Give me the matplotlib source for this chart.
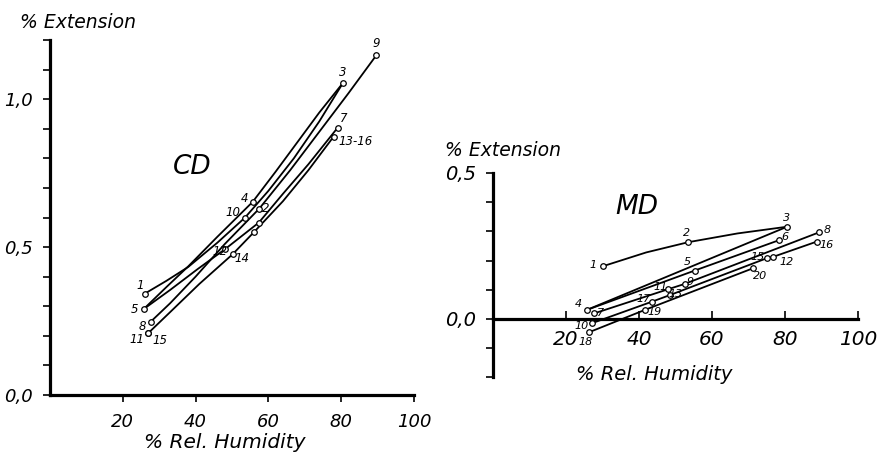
import matplotlib.pyplot as plt
from matplotlib.ticker import MultipleLocator, FixedLocator

plt.rcParams['font.family'] = 'DejaVu Sans'
plt.rcParams['font.style'] = 'italic'

# ---- CD: extension vs. relative humidity (read-off curve traces) ----
cd_a_x = [26.1, 32, 38, 46, 53.6, 60, 67, 74, 80.5]          # 1 -> 10 -> 3
cd_a_y = [0.343, 0.386, 0.433, 0.515, 0.600, 0.690, 0.800, 0.925, 1.055]
cd_b_x = [25.7, 32, 38, 46, 55.7, 62, 68, 74, 80.5]          # 5 -> 4 -> 3
cd_b_y = [0.290, 0.365, 0.435, 0.535, 0.653, 0.755, 0.855, 0.955, 1.055]
cd_c_x = [27.7, 33, 40, 48, 57.5, 66, 74, 82, 89.7]          # 8 -> 2 -> 9
cd_c_y = [0.248, 0.310, 0.400, 0.510, 0.630, 0.760, 0.890, 1.020, 1.149]
cd_d_x = [25.7, 33, 40.5, 48.1, 57.4, 64, 71, 79.0]          # 5 -> 12 -> 7
cd_d_y = [0.290, 0.355, 0.425, 0.493, 0.583, 0.680, 0.780, 0.903]
cd_e_x = [26.9, 33, 41, 50.2, 56, 64, 71, 77.9]              # 11/15 -> 14 -> 13-16
cd_e_y = [0.208, 0.280, 0.375, 0.476, 0.550, 0.655, 0.760, 0.873]

cd_pt_lbl = ['1', '5', '8', '11', '15', '4', '10', '2', '12', '14', '', '', '3', '9', '7', '13-16']
cd_pt_x = [26.1, 25.7, 27.7, 26.9, 26.9, 55.7, 53.6, 57.5, 48.1, 50.2, 56.0, 57.4, 80.5, 89.7, 79.0, 77.9]
cd_pt_y = [0.343, 0.290, 0.248, 0.208, 0.208, 0.653, 0.600, 0.630, 0.493, 0.476, 0.550, 0.583,
           1.055, 1.149, 0.903, 0.873]

# ---- MD ----
md_a_x = [30.2, 42, 53.5, 67, 80.6]                          # 1 -> 2 -> 3
md_a_y = [0.181, 0.228, 0.263, 0.293, 0.316]
md_b_x = [25.7, 80.6]                                        # 4 -> 3
md_b_y = [0.031, 0.316]
md_c_x = [25.7, 55.3, 78.4]                                  # 4 -> 5 -> 6
md_c_y = [0.031, 0.166, 0.270]
md_d_x = [27.7, 48.0, 52.5, 89.4]                            # 7 -> 11 -> 9 -> 8
md_d_y = [0.019, 0.102, 0.120, 0.297]
md_e_x = [27.0, 43.5, 48.5, 75.0, 76.8, 88.7]                # 10 -> 17 -> 13 -> 15 -> 12 -> 16
md_e_y = [-0.015, 0.059, 0.082, 0.208, 0.213, 0.265]
md_f_x = [26.4, 41.6, 71.3]                                  # 18 -> 19 -> 20
md_f_y = [-0.045, 0.031, 0.174]

md_pt_lbl = ['1', '2', '3', '4', '5', '6', '7', '8', '9', '10', '11', '12', '13', '15', '16',
             '17', '18', '19', '20']
md_pt_x = [30.2, 53.5, 80.6, 25.7, 55.3, 78.4, 27.7, 89.4, 52.5, 27.0, 48.0, 76.8, 48.5, 75.0,
           88.7, 43.5, 26.4, 41.6, 71.3]
md_pt_y = [0.181, 0.263, 0.316, 0.031, 0.166, 0.270, 0.019, 0.297, 0.120, -0.015, 0.102, 0.213,
           0.082, 0.208, 0.265, 0.059, -0.045, 0.031, 0.174]

# label offsets in pixels (dx, dy)
cd_off = [(-5, 8), (-9, 0), (-8, -5), (-11, -6), (12, -7), (-8, 3), (-12, 5), (6, 0), (-5, -2),
          (9, -4), (0, 0), (0, 0), (0, 10), (0, 12), (6, 9), (22, -5)]
md_off = [(-10, 1), (-2, 9), (-1, 9), (-8, 6), (-7, 9), (6, 3), (6, 0), (8, 2), (5, 2), (-10, -3),
          (-8, 2), (13, -5), (6, 1), (-9, 1), (10, -3), (-8, 3), (-4, -10), (10, -2), (7, -8)]

fig = plt.figure(figsize=(8.77, 4.58), dpi=100)
ax1 = fig.add_axes([0.057, 0.1376, 0.415, 0.775])
ax2 = fig.add_axes([0.5621, 0.176, 0.4162, 0.4463])

line_kw = dict(color='k', lw=1.3, solid_capstyle='round')
mk_kw = dict(ls='none', marker='o', ms=4, mfc='white', mec='k', mew=0.9, clip_on=False, zorder=3)

for xs, ys in [(cd_a_x, cd_a_y), (cd_b_x, cd_b_y), (cd_c_x, cd_c_y), (cd_d_x, cd_d_y), (cd_e_x, cd_e_y)]:
    ax1.plot(xs, ys, **line_kw)
ax1.plot(cd_pt_x, cd_pt_y, **mk_kw)
for t, x, y, (dx, dy) in zip(cd_pt_lbl, cd_pt_x, cd_pt_y, cd_off):
    if t:
        ax1.annotate(t, (x, y), xytext=(dx, dy), textcoords='offset pixels',
                     ha='center', va='center', fontsize=8.5)

for xs, ys in [(md_a_x, md_a_y), (md_b_x, md_b_y), (md_c_x, md_c_y), (md_d_x, md_d_y),
               (md_e_x, md_e_y), (md_f_x, md_f_y)]:
    ax2.plot(xs, ys, **line_kw)
ax2.plot(md_pt_x, md_pt_y, **mk_kw)
for t, x, y, (dx, dy) in zip(md_pt_lbl, md_pt_x, md_pt_y, md_off):
    ax2.annotate(t, (x, y), xytext=(dx, dy), textcoords='offset pixels',
                 ha='center', va='center', fontsize=8)

# axes styling
ax1.set_xlim(0, 100)
ax1.set_ylim(0, 1.2)
ax2.set_xlim(0, 100)
ax2.set_ylim(-0.2, 0.5)

for ax in (ax1, ax2):
    for s in ('top', 'right'):
        ax.spines[s].set_visible(False)
    for s in ('left', 'bottom'):
        ax.spines[s].set_linewidth(2.3)
    ax.yaxis.set_major_locator(FixedLocator([0.0, 0.5, 1.0]))
    ax.yaxis.set_minor_locator(MultipleLocator(0.1))
    ax.tick_params(axis='y', which='both', direction='out', length=5, width=1.2, pad=7)
    ax.set_xticks([20, 40, 60, 80, 100])
    ax.set_xticklabels(['20', '40', '60', '80', '100'])

ax1.set_yticks([0.0, 0.5, 1.0])
ax1.set_yticklabels(['0,0', '0,5', '1,0'])
ax1.tick_params(axis='y', labelsize=13)
ax2.set_yticks([0.0, 0.5])
ax2.set_yticklabels(['0,0', '0,5'])
ax2.tick_params(axis='y', labelsize=14)
ax1.tick_params(axis='x', direction='out', length=5, width=1.2, labelsize=13, pad=8)

ax2.spines['bottom'].set_position(('data', 0))
ax2.tick_params(axis='x', direction='in', length=6, width=1.2, labelsize=14.5, pad=8)

ax1.text(39, 0.77, 'CD', fontsize=19, ha='center', va='center')
ax2.text(39.5, 0.384, 'MD', fontsize=19, ha='center', va='center')

fig.text(20 / 877, 1 - 22 / 458, '% Extension', ha='left', va='center', fontsize=13.5)
fig.text(225 / 877, 1 - 443 / 458, '% Rel. Humidity', ha='center', va='center', fontsize=14.5)
fig.text(445 / 877, 1 - 150 / 458, '% Extension', ha='left', va='center', fontsize=13.5)
fig.text(654 / 877, 1 - 375 / 458, '% Rel. Humidity', ha='center', va='center', fontsize=14)

fig.savefig('out.png', dpi=100)
